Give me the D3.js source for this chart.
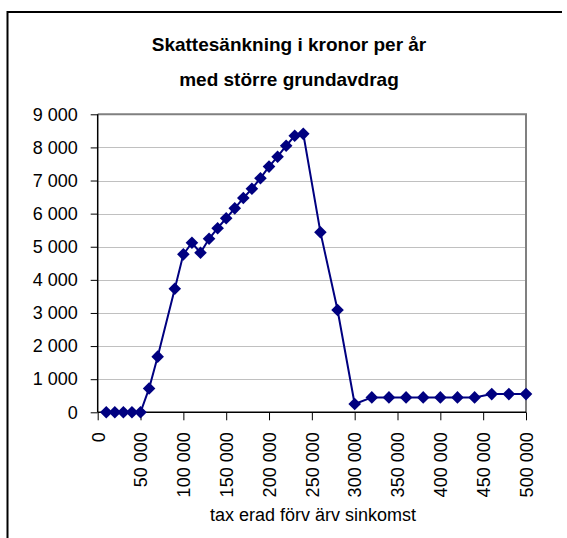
<!DOCTYPE html>
<html>
<head>
<meta charset="utf-8">
<script src="https://cdn.jsdelivr.net/npm/d3@7"></script>
<style>
  html, body { margin: 0; padding: 0; background: #fff; }
  svg { display: block; font-family: "Liberation Sans", Arial, sans-serif; }
</style>
</head>
<body>
<svg id="chart" width="567" height="538"></svg>
<script>
// 数据：taxerad förvärvsinkomst (kr) 与 skattesänkning (kr/år)
const incomes = [10000, 20000, 30000, 40000, 50000, 60000, 70000, 90000, 100000,
    110000, 120000, 130000, 140000, 150000, 160000, 170000, 180000, 190000, 200000,
    210000, 220000, 230000, 240000, 260000, 280000, 300000, 320000, 340000, 360000,
    380000, 400000, 420000, 440000, 460000, 480000, 500000];
const reductions = [0, 0, 0, 0, 0, 720, 1680, 3730, 4770, 5120, 4820, 5240, 5560,
    5860, 6160, 6470, 6750, 7070, 7420, 7720, 8050, 8350, 8410, 5440, 3090, 250,
    450, 450, 450, 450, 450, 450, 450, 550, 550, 550];
const yTicks = [0, 1000, 2000, 3000, 4000, 5000, 6000, 7000, 8000, 9000];
const xTicks = [0, 50000, 100000, 150000, 200000, 250000, 300000, 350000, 400000, 450000, 500000];
const titleLines = ['Skattesänkning i kronor per år', 'med större grundavdrag'];
const xTitle = 'tax erad förv ärv sinkomst';

// 样式配置
const Config = {
    plot: { left: 97.7, right: 526, top: 114.3, bottom: 412.3 },
    lineColor: '#000080',
    gridColor: '#c0c0c0',
    frameColor: '#808080',
    fontSize: 18,
    marker: 6.3
};

const svg = d3.select('#chart');
const P = Config.plot;

// 千位用空格分隔
const fmt = d3.formatLocale({ decimal: ',', thousands: ' ', grouping: [3], currency: ['', ' kr'] }).format(',');

const x = d3.scaleLinear().domain([0, 500000]).range([P.left, P.right]);
const y = d3.scaleLinear().domain([0, 9000]).range([P.bottom, P.top]);

// 外框（只露出上边和左边）
svg.append('path')
    .attr('d', 'M7.5,538 L7.5,12 L562,12')
    .attr('fill', 'none')
    .attr('stroke', '#000')
    .attr('stroke-width', 2);

// 网格线
svg.append('g')
    .selectAll('line')
    .data(yTicks.slice(1, -1))
    .enter().append('line')
    .attr('x1', P.left).attr('x2', P.right)
    .attr('y1', d => Math.round(y(d)) + 0.5)
    .attr('y2', d => Math.round(y(d)) + 0.5)
    .attr('stroke', Config.gridColor)
    .attr('stroke-width', 1);

// 绘图区上、右边框
svg.append('path')
    .attr('d', `M${P.left},${P.top} L${P.right},${P.top} L${P.right},${P.bottom}`)
    .attr('fill', 'none')
    .attr('stroke', Config.frameColor)
    .attr('stroke-width', 2);

// Y 轴
const yAxis = svg.append('g')
    .attr('transform', `translate(${P.left},0)`)
    .call(d3.axisLeft(y).tickValues(yTicks).tickFormat(fmt).tickSize(7).tickPadding(13));
yAxis.select('.domain').attr('stroke', '#000').attr('stroke-width', 1.5).attr('d', `M0,${P.top}V${P.bottom}`);
yAxis.selectAll('.tick line').attr('stroke', '#000');
yAxis.selectAll('.tick text')
    .attr('font-size', Config.fontSize)
    .attr('font-family', '"Liberation Sans", Arial, sans-serif')
    .attr('fill', '#000');

// X 轴
const xAxis = svg.append('g')
    .attr('transform', `translate(0,${P.bottom})`)
    .call(d3.axisBottom(x).tickValues(xTicks).tickFormat(fmt).tickSize(8).tickPadding(0));
xAxis.select('.domain').attr('stroke', '#000').attr('stroke-width', 1.5).attr('d', `M${P.left},0H${P.right}`);
xAxis.selectAll('.tick line').attr('stroke', '#000');
xAxis.selectAll('.tick text')
    .attr('font-size', Config.fontSize)
    .attr('font-family', '"Liberation Sans", Arial, sans-serif')
    .attr('fill', '#000')
    .attr('text-anchor', 'end')
    .attr('dy', '0.35em')
    .attr('transform', 'translate(0,20) rotate(-90)')
    .attr('x', 0)
    .attr('y', 0);

// 折线
const line = d3.line()
    .x((d, i) => x(incomes[i]))
    .y(d => y(d));

svg.append('path')
    .datum(reductions)
    .attr('d', line)
    .attr('fill', 'none')
    .attr('stroke', Config.lineColor)
    .attr('stroke-width', 2);

// 菱形标记
const m = Config.marker;
svg.append('g')
    .selectAll('path')
    .data(reductions)
    .enter().append('path')
    .attr('d', `M0,${-m} L${m},0 L0,${m} L${-m},0 Z`)
    .attr('transform', (d, i) => `translate(${x(incomes[i])},${y(d)})`)
    .attr('fill', Config.lineColor);

// 标题
svg.append('g')
    .selectAll('text')
    .data(titleLines)
    .enter().append('text')
    .attr('x', 289)
    .attr('y', (d, i) => 51 + i * 35)
    .attr('text-anchor', 'middle')
    .attr('font-size', 19)
    .attr('font-weight', 'bold')
    .text(d => d);

// X 轴标题
svg.append('text')
    .attr('x', 313)
    .attr('y', 521)
    .attr('text-anchor', 'middle')
    .attr('font-size', Config.fontSize)
    .text(xTitle);
</script>
</body>
</html>
